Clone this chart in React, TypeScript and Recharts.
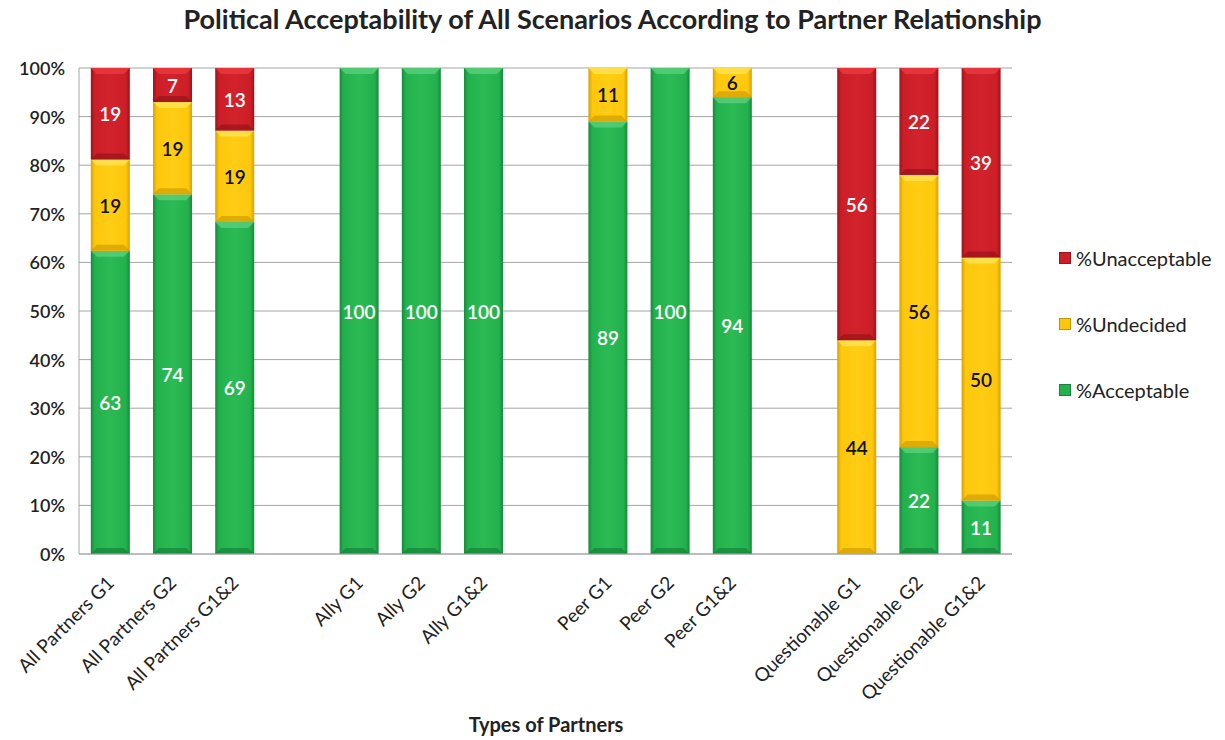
import React from 'react';
import { BarChart, Bar, XAxis, YAxis, CartesianGrid, LabelList } from 'recharts';

const categories = [
  'All Partners G1', 'All Partners G2', 'All Partners G1&2', '',
  'Ally G1', 'Ally G2', 'Ally G1&2', ' ',
  'Peer G1', 'Peer G2', 'Peer G1&2', '  ',
  'Questionable G1', 'Questionable G2', 'Questionable G1&2',
];
const acceptable = [63, 74, 69, 0, 100, 100, 100, 0, 89, 100, 94, 0, 0, 22, 11];
const undecided = [19, 19, 19, 0, 0, 0, 0, 0, 11, 0, 6, 0, 44, 56, 50];
const unacceptable = [19, 7, 13, 0, 0, 0, 0, 0, 0, 0, 0, 0, 56, 22, 39];
const yTicks = [0, 0.1, 0.2, 0.3, 0.4, 0.5, 0.6, 0.7, 0.8, 0.9, 1];

const data = categories.map((c, i) => ({
  name: c,
  acc: acceptable[i],
  und: undecided[i],
  una: unacceptable[i],
}));

const FONT = 'Lato, "Open Sans", sans-serif';

const makeLabel = (color: string) => (props: any) => {
  const { x, y, width, height, value } = props;
  if (!value || Number(value) <= 0) return null;
  return (
    <text
      x={Number(x) + Number(width) / 2}
      y={Number(y) + Number(height) / 2}
      textAnchor="middle"
      dominantBaseline="central"
      fill={color}
      fontFamily={FONT}
      fontSize={19}
      fontWeight={600}
    >
      {value}
    </text>
  );
};

const makeShape = (grad: string, light: string, dark: string) => (props: any) => {
  const { x, y, width, height } = props;
  if (!height || height <= 0) return null;
  const b = Math.min(6, height / 3);
  return (
    <g>
      <rect x={x} y={y} width={width} height={height} fill={`url(#${grad})`} />
      <polygon
        points={`${x},${y} ${x + width},${y} ${x + width - b},${y + b} ${x + b},${y + b}`}
        fill={light}
        opacity={0.75}
      />
      <polygon
        points={`${x},${y + height} ${x + width},${y + height} ${x + width - b},${y + height - b} ${x + b},${y + height - b}`}
        fill={dark}
        opacity={0.6}
      />
    </g>
  );
};

const XTick = (props: any) => {
  const { x, y, payload } = props;
  const label = String(payload.value).trim();
  if (!label) return null;
  return (
    <g transform={`translate(${x},${y + 17})`}>
      <text
        transform="rotate(-45)"
        textAnchor="end"
        fill="#222"
        fontFamily={FONT}
        fontSize={19}
        dominantBaseline="central"
      >
        {label}
      </text>
    </g>
  );
};

const YTick = (props: any) => {
  const { x, y, payload } = props;
  return (
    <text x={x - 6} y={y} textAnchor="end" dominantBaseline="central" fill="#222" fontFamily={FONT} fontSize={18} fontWeight={600}>
      {`${Math.round(payload.value * 100)}%`}
    </text>
  );
};

const legendItems = [
  { name: '%Unacceptable', color: '#cc1e27' },
  { name: '%Undecided', color: '#fdc70c' },
  { name: '%Acceptable', color: '#22b14c' },
];

export default function App() {
  return (
    <div style={{ position: 'absolute', left: 0, top: 0, width: 1225, height: 740, background: '#fff', fontFamily: FONT }}>
      <div style={{ position: 'absolute', left: 0, top: 2, width: 1225, textAlign: 'center', fontSize: 27, fontWeight: 700, color: '#222' }}>
        Political Acceptability of All Scenarios According to Partner Relationship
      </div>
      <BarChart
        width={1225}
        height={740}
        data={data}
        stackOffset="expand"
        barCategoryGap="19%"
        margin={{ top: 68, right: 213, bottom: 0, left: 19 }}
      >
        <defs>
          <linearGradient id="gGreen" x1="0" y1="0" x2="1" y2="0">
            <stop offset="0" stopColor="#158a3a" />
            <stop offset="0.1" stopColor="#22b14c" />
            <stop offset="0.5" stopColor="#2cba55" />
            <stop offset="0.9" stopColor="#22b14c" />
            <stop offset="1" stopColor="#158a3a" />
          </linearGradient>
          <linearGradient id="gYellow" x1="0" y1="0" x2="1" y2="0">
            <stop offset="0" stopColor="#d9a100" />
            <stop offset="0.1" stopColor="#fdc70c" />
            <stop offset="0.5" stopColor="#ffcd14" />
            <stop offset="0.9" stopColor="#fdc70c" />
            <stop offset="1" stopColor="#d9a100" />
          </linearGradient>
          <linearGradient id="gRed" x1="0" y1="0" x2="1" y2="0">
            <stop offset="0" stopColor="#9b1419" />
            <stop offset="0.1" stopColor="#cc1e27" />
            <stop offset="0.5" stopColor="#d2232c" />
            <stop offset="0.9" stopColor="#cc1e27" />
            <stop offset="1" stopColor="#9b1419" />
          </linearGradient>
        </defs>
        <CartesianGrid vertical={false} stroke="#a6a6a6" />
        <XAxis
          dataKey="name"
          interval={0}
          tick={<XTick />}
          tickLine={false}
          axisLine={{ stroke: '#a6a6a6' }}
          height={186}
        />
        <YAxis
          ticks={yTicks}
          domain={[0, 1]}
          tick={<YTick />}
          tickLine={false}
          axisLine={{ stroke: '#a6a6a6' }}
          width={60}
        />
        <Bar dataKey="acc" stackId="s" fill="#22b14c" shape={makeShape('gGreen', '#5fd07f', '#137a34')} isAnimationActive={false}>
          <LabelList dataKey="acc" content={makeLabel('#ffffff')} />
        </Bar>
        <Bar dataKey="und" stackId="s" fill="#fdc70c" shape={makeShape('gYellow', '#ffe55a', '#c99600')} isAnimationActive={false}>
          <LabelList dataKey="und" content={makeLabel('#111111')} />
        </Bar>
        <Bar dataKey="una" stackId="s" fill="#cc1e27" shape={makeShape('gRed', '#ee3b40', '#8e1117')} isAnimationActive={false}>
          <LabelList dataKey="una" content={makeLabel('#ffffff')} />
        </Bar>
      </BarChart>
      <div style={{ position: 'absolute', left: 546 - 200, top: 712, width: 400, textAlign: 'center', fontSize: 20, fontWeight: 700, color: '#222' }}>
        Types of Partners
      </div>
      <div style={{ position: 'absolute', left: 1059, top: 245 }}>
        {legendItems.map((it, i) => (
          <div key={it.name} style={{ display: 'flex', alignItems: 'center', height: 26, marginBottom: i < 2 ? 40 : 0 }}>
            <span style={{ display: 'inline-block', width: 12, height: 12, background: it.color, marginRight: 5, boxShadow: 'inset 0 0 0 1px rgba(0,0,0,0.25)' }} />
            <span style={{ fontSize: 20, color: '#222' }}>{it.name}</span>
          </div>
        ))}
      </div>
    </div>
  );
}
